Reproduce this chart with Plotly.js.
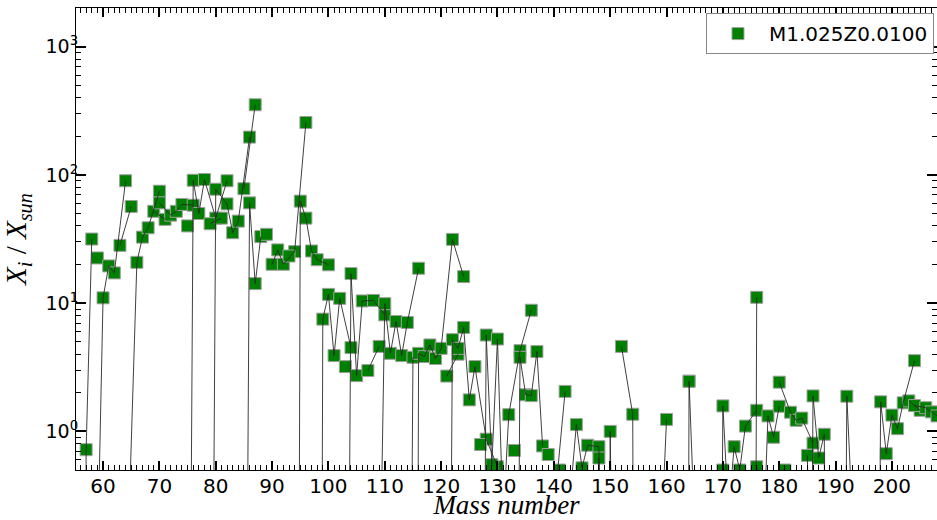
<!DOCTYPE html>
<html>
<head>
<meta charset="utf-8">
<script src="https://cdn.plot.ly/plotly-3.0.1.min.js"></script>
<style>html,body{margin:0;padding:0;background:#fff;}#chart{width:937px;height:520px;}</style>
</head>
<body>
<div id="chart"></div>
<script>
// Isotopes grouped by element (a line connects the isotopes of one element)
const element = [
  'Fe','Fe','Fe', 'Co', 'Ni','Ni','Ni','Ni','Ni', 'Cu','Cu', 'Zn','Zn','Zn','Zn','Zn',
  'Ga','Ga', 'Ge','Ge','Ge','Ge','Ge', 'As', 'Se','Se','Se','Se','Se','Se', 'Br','Br',
  'Kr','Kr','Kr','Kr','Kr','Kr', 'Rb','Rb', 'Sr','Sr','Sr','Sr', 'Y',
  'Zr','Zr','Zr','Zr','Zr', 'Nb', 'Mo','Mo','Mo','Mo','Mo','Mo','Mo',
  'Ru','Ru','Ru','Ru','Ru','Ru','Ru', 'Rh', 'Pd','Pd','Pd','Pd','Pd','Pd', 'Ag','Ag',
  'Cd','Cd','Cd','Cd','Cd','Cd','Cd','Cd', 'In','In',
  'Sn','Sn','Sn','Sn','Sn','Sn','Sn','Sn','Sn','Sn', 'Sb','Sb',
  'Te','Te','Te','Te','Te','Te','Te','Te', 'I',
  'Xe','Xe','Xe','Xe','Xe','Xe','Xe','Xe','Xe', 'Cs',
  'Ba','Ba','Ba','Ba','Ba','Ba','Ba', 'La', 'Ce','Ce','Ce','Ce', 'Pr',
  'Nd','Nd','Nd','Nd','Nd','Nd','Nd', 'Sm','Sm','Sm','Sm','Sm','Sm','Sm',
  'Gd','Gd','Gd','Gd','Gd','Gd','Gd', 'Dy','Dy','Dy', 'Er','Er','Er','Er','Er',
  'Yb','Yb','Yb','Yb','Yb','Yb','Yb', 'Lu','Lu', 'Hf','Hf','Hf','Hf','Hf','Hf', 'Ta',
  'W','W','W','W','W', 'Re','Re', 'Os','Os','Os','Os','Os', 'Pt','Pt','Pt',
  'Hg','Hg','Hg','Hg','Hg','Hg','Hg', 'Tl','Tl', 'Pb','Pb','Pb','Pb'
];
const massNumber = [
  56,57,58, 59, 58,60,61,62,64, 63,65, 64,66,67,68,70,
  69,71, 70,72,73,74,76, 75, 74,76,77,78,80,82, 79,81,
  78,80,82,83,84,86, 85,87, 84,86,87,88, 89,
  90,91,92,94,96, 93, 92,94,95,96,97,98,100,
  96,98,99,100,101,102,104, 103, 102,104,105,106,108,110, 107,109,
  106,108,110,111,112,113,114,116, 113,115,
  112,114,115,116,117,118,119,120,122,124, 121,123,
  120,122,123,124,125,126,128,130, 127,
  124,126,128,129,130,131,132,134,136, 133,
  130,132,134,135,136,137,138, 139, 136,138,140,142, 141,
  142,143,144,145,146,148,150, 144,147,148,149,150,152,154,
  152,154,155,156,157,158,160, 162,163,164, 164,166,167,168,170,
  168,170,171,172,173,174,176, 175,176, 174,176,177,178,179,180, 181,
  180,182,183,184,186, 185,187, 184,186,187,188,189, 190,192,194,
  196,198,199,200,201,202,204, 203,205, 204,206,207,208
];
const ratio = [
  1e-12,0.72,31.6, 22.5, 8e-4,11.0,19.5,17.2,90, 28.2,56.7, 0.03,20.8,32.7,38.7,74.6,
  52,45, 60.5,48.5,52,58.8,58, 40, 1e-12,90.8,50,92,46,90, 41.6,46,
  1e-12,77.3,59.4,35.4,43.6,197, 78,352, 1e-12,60.5,14.2,33, 34.4,
  20.1,26,20.1,25.2,256, 23.3, 1e-12,1e-12,62.4,46,25.5,21.8,19.9,
  1e-12,1e-12,7.5,11.7,3.9,10.9,4.5, 3.2, 1e-12,17,2.72,10.4,10.5,8.1, 2.98,4.6,
  1e-12,6e-5,9.9,4.06,7.2,3.9,7.07,18.7, 1e-12,3.78,
  1e-12,1e-12,1e-12,4.06,3.83,4.72,3.7,4.44,31.4,16.1, 2.7,4.0,
  1e-12,5.19,4.44,6.46,1.76,3.2,0.87,0.53, 0.79,
  1e-12,1e-12,5.64,0.55,5.25,0.2,1.35,4.26,8.8, 0.71,
  1e-12,1e-12,3.78,1.93,1.9,4.19,0.77, 0.66, 1e-12,1e-12,0.235,2.05, 0.5,
  0.05,0.35,1.13,0.52,0.78,0.76,1e-6, 1e-12,1e-12,0.62,1e-12,1.0,1e-12,1e-12,
  4.6,1.36,1e-12,1e-12,1e-12,0.012,1.24, 1e-12,1e-12,2.46, 2.46,0.012,1e-12,1e-12,0.5,
  1e-12,1.58,0.23,0.76,0.5,1.1,1.46, 1e-12,11.1, 1e-12,0.53,0.08,1.32,0.9,1.57, 0.5,
  2.42,1.41,1.22,1.27,0.81, 0.65,1e-6, 1e-12,1.89,0.62,0.95,1e-12, 1e-12,1.88,0.023,
  1e-12,1.7,0.67,1.34,1.05,1.67,3.56, 1.73,1.46, 1.59,1.53,1.42,1.32
];
const seriesName = 'M1.025Z0.0100';
const yTickVals = [1, 10, 100, 1000];
const yTickText = ['10<sup>0</sup>', '10<sup>1</sup>', '10<sup>2</sup>', '10<sup>3</sup>'];

// lines broken between elements
const lx = [], ly = [];
for (let i = 0; i < massNumber.length; i++) {
  if (i > 0 && element[i] !== element[i - 1]) { lx.push(null); ly.push(null); }
  lx.push(massNumber[i]); ly.push(ratio[i]);
}

const markerTrace = {
  x: massNumber, y: ratio, type: 'scatter', mode: 'markers', name: seriesName,
  marker: {symbol: 'square', size: 12, color: '#008000', line: {color: '#a0a0a0', width: 1}},
  hoverinfo: 'x+y'
};
const lineTrace = {
  x: lx, y: ly, type: 'scatter', mode: 'lines', showlegend: false, connectgaps: false,
  line: {color: '#2a2a2a', width: 0.9}, hoverinfo: 'skip'
};

const layout = {
  width: 937, height: 520,
  margin: {l: 76, r: 0, t: 8, b: 50},
  paper_bgcolor: '#ffffff', plot_bgcolor: '#ffffff',
  showlegend: true,
  legend: {
    x: 0.9965, xanchor: 'right', y: 0.989, yanchor: 'top',
    bgcolor: '#ffffff', bordercolor: '#888888', borderwidth: 1,
    itemwidth: 52,
    font: {family: 'DejaVu Sans', size: 20, color: '#000'}
  },
  xaxis: {
    range: [55.2, 208], tick0: 0, dtick: 10,
    ticks: 'inside', ticklen: 9, tickwidth: 2, tickcolor: '#000',
    showline: true, linecolor: '#000', linewidth: 1, mirror: 'allticks',
    showgrid: false, zeroline: false,
    ticklabelstandoff: -2,
    minor: {ticks: 'inside', dtick: 1, ticklen: 5, tickwidth: 1, tickcolor: '#000', showgrid: false},
    tickfont: {family: 'DejaVu Sans', size: 20, color: '#000'},
    title: {text: '<i>Mass number</i>', font: {family: 'Liberation Serif', size: 27, color: '#000'}, standoff: 10}
  },
  yaxis: {
    type: 'log', range: [Math.log10(0.5), Math.log10(2000)],
    tickvals: yTickVals, ticktext: yTickText,
    ticks: 'inside', ticklen: 10, tickwidth: 2, tickcolor: '#000',
    showline: true, linecolor: '#000', linewidth: 1, mirror: 'allticks',
    showgrid: false, zeroline: false,
    ticklabelstandoff: -7,
    minor: {ticks: 'inside', dtick: 'D1', ticklen: 5, tickwidth: 1, tickcolor: '#000', showgrid: false},
    tickfont: {family: 'DejaVu Sans', size: 19, color: '#000'},
    title: {text: '<i>X<sub>i</sub></i> / <i>X<sub>sun</sub></i>', font: {family: 'Liberation Serif', size: 29, color: '#000'}, standoff: 18}
  }
};

Plotly.newPlot('chart', [markerTrace, lineTrace], layout, {displayModeBar: false, staticPlot: true});
</script>
</body>
</html>
